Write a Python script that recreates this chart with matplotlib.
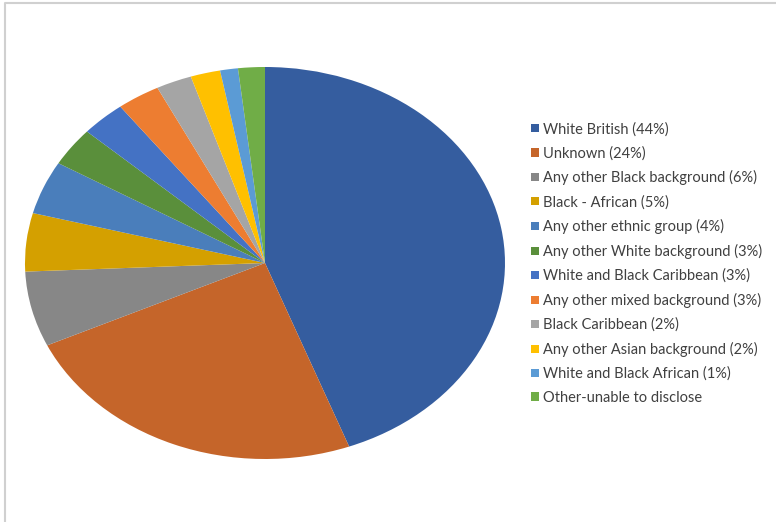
import matplotlib.pyplot as plt
from matplotlib.lines import Line2D

labels = ['White British (44%)', 'Unknown (24%)', 'Any other Black background (6%)',
          'Black - African (5%)', 'Any other ethnic group (4%)', 'Any other White background (3%)',
          'White and Black Caribbean (3%)', 'Any other mixed background (3%)',
          'Black Caribbean (2%)', 'Any other Asian background (2%)',
          'White and Black African (1%)', 'Other-unable to disclose']
shares = [44.3, 23.8, 6.2, 4.8, 4.4, 3.2, 3.0, 2.9, 2.4, 2.0, 1.2, 1.8]
colors = ['#355D9F', '#C5652A', '#878787', '#D4A000', '#4A7EBB', '#5A8F3B',
          '#4472C4', '#ED7D31', '#A5A5A5', '#FFC000', '#5B9BD5', '#70AD47']

plt.rcParams['font.family'] = ['Lato', 'DejaVu Sans']

fig = plt.figure(figsize=(7.76, 5.22), dpi=100)
fig.patch.set_facecolor('white')

# pie drawn stretched (elliptical) like the original
ax = fig.add_axes([25 / 776, 1 - 459 / 522, 480 / 776, 392 / 522])
wedges, _ = ax.pie(shares, colors=colors, startangle=90, counterclock=False,
                   wedgeprops={'linewidth': 0})
ax.set_aspect('auto')
ax.set_xlim(-1, 1)
ax.set_ylim(-1, 1)
ax.axis('off')

fig.legend(wedges, labels, loc='upper left', bbox_to_anchor=(531 / 776, 1 - 122 / 522),
           frameon=False, fontsize=10.5, labelspacing=0.67, handlelength=0.52,
           handleheight=0.52, handletextpad=0.3, borderpad=0, borderaxespad=0,
           labelcolor='#404040')

# chart area border (top and left edges visible)
fig.add_artist(Line2D([5 / 776, 5 / 776, 1], [0, 1 - 3 / 522, 1 - 3 / 522],
                      transform=fig.transFigure, color='#D0D0D0', linewidth=1.5))

plt.savefig('out.png', dpi=100)
